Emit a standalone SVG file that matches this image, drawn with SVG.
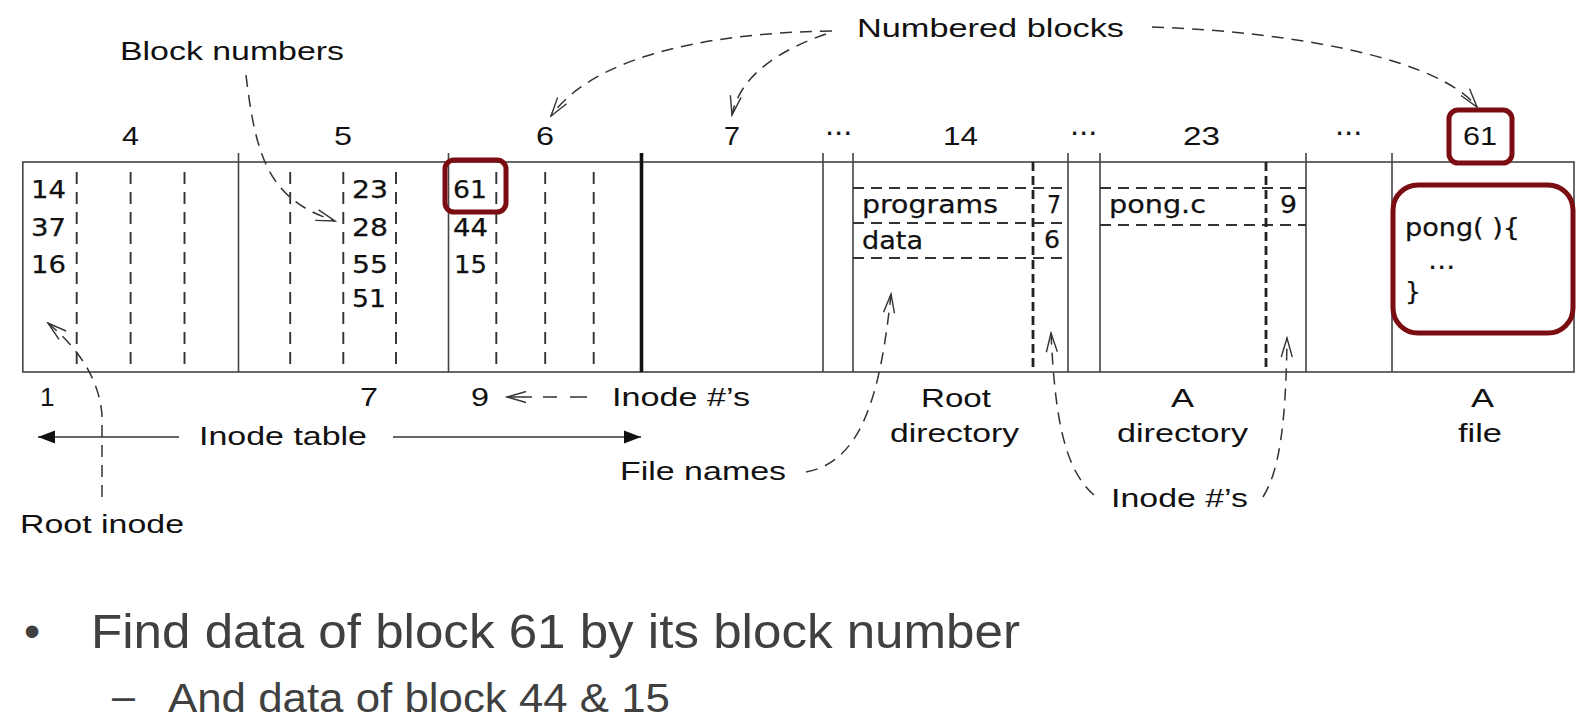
<svg xmlns="http://www.w3.org/2000/svg" width="1586" height="728" viewBox="0 0 1586 728">
<style>
.lbl{font-family:"Liberation Sans",Arial,sans-serif;font-size:26px;fill:#111}
.cell{font-family:"DejaVu Sans","Liberation Sans",sans-serif;font-size:25px;fill:#111;stroke:#111;stroke-width:0.25}
.solid{stroke:#444;stroke-width:1.6;fill:none}
.thick{stroke:#111;stroke-width:3.6;fill:none}
.dash{stroke:#333;stroke-width:1.9;stroke-dasharray:12 8;fill:none}
.hdash{stroke:#333;stroke-width:1.8;stroke-dasharray:11 7;fill:none}
.tdash{stroke:#222;stroke-width:2.8;stroke-dasharray:9 5;fill:none}
.conn{stroke:#333;stroke-width:1.5;stroke-dasharray:12 8;fill:none;marker-end:url(#open)}
.arr{stroke:#333;stroke-width:1.6;fill:none;marker-end:url(#filled)}
.red{fill:none;stroke:#7a0c12;stroke-width:5}
.bul{font-family:"Liberation Sans",Arial,sans-serif;fill:#404040}
</style>
<defs>
<marker id="open" markerUnits="userSpaceOnUse" markerWidth="22" markerHeight="13" refX="20" refY="6.5" orient="auto" viewBox="0 0 22 13">
<path d="M1,1 L20,6.5 L1,12" fill="none" stroke="#333" stroke-width="1.4" stroke-dasharray="none"/>
</marker>
<marker id="filled" markerUnits="userSpaceOnUse" markerWidth="18" markerHeight="14" refX="17" refY="7" orient="auto" viewBox="0 0 18 14">
<path d="M0,0.5 L17,7 L0,13.5 z" fill="#111"/>
</marker>
</defs>
<rect width="1586" height="728" fill="#fff"/>

<g id="disk">
<rect class="solid" x="22.8" y="162" width="1551.2" height="210"/>
<path class="solid" d="M238.5,153V372M448.5,153V372M823,153V372M853,153V372M1068,153V372M1100,153V372M1306,153V372M1392,153V372"/>
<path class="thick" d="M641.5,153V372"/>
</g>

<g id="header-labels">
<text class="lbl" x="122" y="145" textLength="17" lengthAdjust="spacingAndGlyphs">4</text>
<text class="lbl" x="334" y="145" textLength="18" lengthAdjust="spacingAndGlyphs">5</text>
<text class="lbl" x="536" y="145" textLength="18" lengthAdjust="spacingAndGlyphs">6</text>
<text class="lbl" x="724" y="145" textLength="16" lengthAdjust="spacingAndGlyphs">7</text>
<text class="lbl" x="943" y="145" textLength="35" lengthAdjust="spacingAndGlyphs">14</text>
<text class="lbl" x="1183" y="145" textLength="37" lengthAdjust="spacingAndGlyphs">23</text>
<text class="lbl" x="1463" y="145" textLength="34" lengthAdjust="spacingAndGlyphs">61</text>
<text class="cell" x="825" y="141" textLength="27" lengthAdjust="spacingAndGlyphs">⋯</text>
<text class="cell" x="1070" y="141" textLength="27" lengthAdjust="spacingAndGlyphs">⋯</text>
<text class="cell" x="1335" y="141" textLength="27" lengthAdjust="spacingAndGlyphs">⋯</text>
</g>

<g id="inode-table">
<path class="dash" d="M76.7,172V372M130.6,172V372M184.5,172V372M290.2,172V372M343.3,172V372M396,172V372M496.3,172V372M545.2,172V372M593.7,172V372"/>
<text class="cell" x="31" y="198" textLength="35" lengthAdjust="spacingAndGlyphs">14</text>
<text class="cell" x="31" y="236" textLength="35" lengthAdjust="spacingAndGlyphs">37</text>
<text class="cell" x="31" y="273" textLength="35" lengthAdjust="spacingAndGlyphs">16</text>
<text class="cell" x="352" y="198" textLength="36" lengthAdjust="spacingAndGlyphs">23</text>
<text class="cell" x="352" y="236" textLength="36" lengthAdjust="spacingAndGlyphs">28</text>
<text class="cell" x="352" y="273" textLength="36" lengthAdjust="spacingAndGlyphs">55</text>
<text class="cell" x="352" y="307" textLength="34" lengthAdjust="spacingAndGlyphs">51</text>
<text class="cell" x="453" y="198" textLength="34" lengthAdjust="spacingAndGlyphs">61</text>
<text class="cell" x="453" y="236" textLength="35" lengthAdjust="spacingAndGlyphs">44</text>
<text class="cell" x="454" y="273" textLength="33" lengthAdjust="spacingAndGlyphs">15</text>
<rect class="red" x="445" y="160" width="61" height="52" rx="9"/>
</g>

<g id="root-directory">
<path class="hdash" d="M853,188H1068M853,223H1068M853,258H1068"/>
<path class="tdash" d="M1033,162V372"/>
<text class="cell" x="862" y="213" textLength="136" lengthAdjust="spacingAndGlyphs">programs</text>
<text class="cell" x="1047" y="213" textLength="14" lengthAdjust="spacingAndGlyphs">7</text>
<text class="cell" x="862" y="249" textLength="61" lengthAdjust="spacingAndGlyphs">data</text>
<text class="cell" x="1044" y="248" textLength="16" lengthAdjust="spacingAndGlyphs">6</text>
</g>

<g id="a-directory">
<path class="hdash" d="M1100,188H1306M1100,225H1306"/>
<path class="tdash" d="M1266,162V372"/>
<text class="cell" x="1109" y="213" textLength="97" lengthAdjust="spacingAndGlyphs">pong.c</text>
<text class="cell" x="1280" y="213" textLength="17" lengthAdjust="spacingAndGlyphs">9</text>
</g>

<g id="a-file">
<rect class="red" x="1449" y="110" width="63" height="53" rx="9"/>
<rect class="red" x="1393" y="185" width="180" height="148" rx="25"/>
<text class="cell" x="1405" y="236" textLength="115" lengthAdjust="spacingAndGlyphs">pong( ){</text>
<text class="cell" x="1428" y="275" textLength="27" lengthAdjust="spacingAndGlyphs">⋯</text>
<text class="cell" x="1405" y="300">}</text>
</g>

<g id="labels">
<text class="lbl" x="120" y="60" font-size="25" textLength="224" lengthAdjust="spacingAndGlyphs">Block numbers</text>
<text class="lbl" x="857" y="37" textLength="267" lengthAdjust="spacingAndGlyphs">Numbered blocks</text>
<text class="lbl" x="40" y="406" font-size="27">1</text>
<text class="lbl" x="360" y="406" font-size="27" textLength="18" lengthAdjust="spacingAndGlyphs">7</text>
<text class="lbl" x="471" y="406" font-size="27" textLength="18" lengthAdjust="spacingAndGlyphs">9</text>
<text class="lbl" x="612" y="406" font-size="27" textLength="138" lengthAdjust="spacingAndGlyphs">Inode #’s</text>
<text class="lbl" x="199" y="445" font-size="27" textLength="168" lengthAdjust="spacingAndGlyphs">Inode table</text>
<text class="lbl" x="921" y="407" font-size="27" textLength="70" lengthAdjust="spacingAndGlyphs">Root</text>
<text class="lbl" x="890" y="442" font-size="27" textLength="129" lengthAdjust="spacingAndGlyphs">directory</text>
<text class="lbl" x="1171" y="407" font-size="27" textLength="23" lengthAdjust="spacingAndGlyphs">A</text>
<text class="lbl" x="1117" y="442" font-size="27" textLength="131" lengthAdjust="spacingAndGlyphs">directory</text>
<text class="lbl" x="1471" y="407" font-size="27" textLength="23" lengthAdjust="spacingAndGlyphs">A</text>
<text class="lbl" x="1458" y="442" font-size="27" textLength="44" lengthAdjust="spacingAndGlyphs">file</text>
<text class="lbl" x="620" y="480" font-size="27" textLength="166" lengthAdjust="spacingAndGlyphs">File names</text>
<text class="lbl" x="1111" y="507" font-size="27" textLength="137" lengthAdjust="spacingAndGlyphs">Inode #’s</text>
<text class="lbl" x="20" y="533" font-size="27" textLength="164" lengthAdjust="spacingAndGlyphs">Root inode</text>
</g>

<g id="connectors">
<path class="conn" d="M246,75 C256,160 270,200 335,221"/>
<path class="conn" d="M832,31 C690,33 590,62 551,116"/>
<path class="conn" d="M826,34 C780,50 740,75 732,115"/>
<path class="conn" d="M1152,27 C1300,32 1440,60 1477,107"/>
<path class="conn" d="M587,397 L543,397" style="stroke-dasharray:17 13;marker-end:none"/>
<path class="conn" d="M532,397 L507,397" style="stroke-dasharray:none"/>
<path class="conn" d="M102,497 L102,415 Q98,365 48,323"/>
<path class="conn" d="M806,472 C860,462 880,400 891,294"/>
<path class="conn" d="M1094,495 C1065,470 1055,420 1051,333"/>
<path class="conn" d="M1263,497 C1280,470 1286,420 1287,338"/>
<path class="arr" d="M179,437 L38,437"/>
<path class="arr" d="M393,437 L641,437"/>
</g>

<g id="bullets">
<text class="bul" x="32" y="647" font-size="46" text-anchor="middle">•</text>
<text class="bul" x="91" y="648" font-size="48" textLength="929" lengthAdjust="spacingAndGlyphs">Find data of block 61 by its block number</text>
<text class="bul" x="112" y="710" font-size="41" textLength="23" lengthAdjust="spacingAndGlyphs">–</text>
<text class="bul" x="168" y="712" font-size="41" textLength="502" lengthAdjust="spacingAndGlyphs">And data of block 44 &amp; 15</text>
</g>
</svg>
